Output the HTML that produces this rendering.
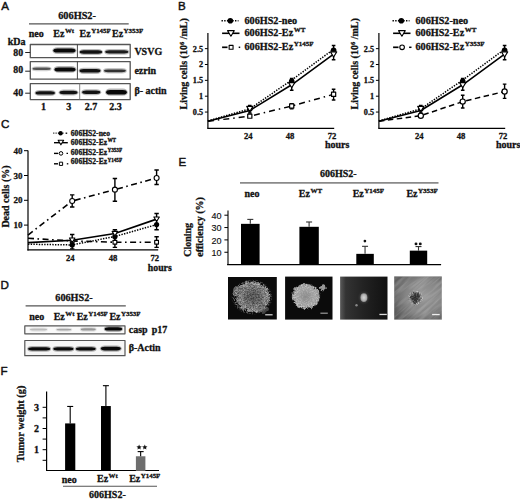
<!DOCTYPE html>
<html><head><meta charset="utf-8"><style>
html,body{margin:0;padding:0;background:#fff;}
svg{display:block;}
text{stroke:#111;stroke-width:0.3px;}
</style></head><body>
<svg width="520" height="499" viewBox="0 0 520 499">
<defs>
<filter id="bl" x="-20%" y="-50%" width="140%" height="200%"><feGaussianBlur stdDeviation="0.6"/></filter>
<radialGradient id="col1"><stop offset="0" stop-color="#5e5e5e"/><stop offset="0.5" stop-color="#737373"/><stop offset="0.8" stop-color="#9a9a9a"/><stop offset="0.93" stop-color="#707070"/><stop offset="1" stop-color="#222" stop-opacity="0"/></radialGradient>
<radialGradient id="col2"><stop offset="0" stop-color="#8a8a8a"/><stop offset="0.7" stop-color="#a5a5a5"/><stop offset="0.92" stop-color="#888"/><stop offset="1" stop-color="#222" stop-opacity="0"/></radialGradient>
<radialGradient id="blob3"><stop offset="0" stop-color="#d8d8d8"/><stop offset="0.7" stop-color="#b0b0b0"/><stop offset="1" stop-color="#888"/></radialGradient>
<radialGradient id="glow3"><stop offset="0" stop-color="#888"/><stop offset="1" stop-color="#333" stop-opacity="0"/></radialGradient>
<radialGradient id="col4"><stop offset="0" stop-color="#2a2a2a"/><stop offset="0.6" stop-color="#3a3a3a"/><stop offset="1" stop-color="#777" stop-opacity="0"/></radialGradient>
<radialGradient id="colmask"><stop offset="0" stop-color="#fff" stop-opacity="0.15"/><stop offset="0.55" stop-color="#fff" stop-opacity="0.45"/><stop offset="0.85" stop-color="#fff" stop-opacity="1"/><stop offset="1" stop-color="#fff" stop-opacity="0"/></radialGradient>
<linearGradient id="g3" x1="0" y1="0" x2="1" y2="0"><stop offset="0" stop-color="#5a5a5a"/><stop offset="0.12" stop-color="#333"/><stop offset="0.5" stop-color="#222"/><stop offset="1" stop-color="#111"/></linearGradient>
<radialGradient id="g4" cx="0.62" cy="0.45" r="0.75"><stop offset="0" stop-color="#999"/><stop offset="0.5" stop-color="#858585"/><stop offset="1" stop-color="#555"/></radialGradient>
<filter id="speck" x="0" y="0" width="100%" height="100%"><feTurbulence type="fractalNoise" baseFrequency="0.9" numOctaves="2" seed="4" result="n"/><feColorMatrix in="n" type="matrix" values="0 0 0 0 1  0 0 0 0 1  0 0 0 0 1  4 0 0 0 -1.7" result="w"/><feComposite in="w" in2="SourceGraphic" operator="in"/></filter>
<filter id="speckd" x="0" y="0" width="100%" height="100%"><feTurbulence type="fractalNoise" baseFrequency="0.7" numOctaves="2" seed="11" result="n"/><feColorMatrix in="n" type="matrix" values="0 0 0 0 0  0 0 0 0 0  0 0 0 0 0  4 0 0 0 -1.6" result="w"/><feComposite in="w" in2="SourceGraphic" operator="in"/></filter>
<filter id="speck2" x="0" y="0" width="100%" height="100%"><feTurbulence type="fractalNoise" baseFrequency="0.8" numOctaves="2" seed="9" result="n"/><feColorMatrix in="n" type="matrix" values="0 0 0 0 1  0 0 0 0 1  0 0 0 0 1  4 0 0 0 -1.8" result="w"/><feComposite in="w" in2="SourceGraphic" operator="in"/></filter>
<clipPath id="c4"><rect x="394.2" y="276.4" width="47.6" height="43.2"/></clipPath>
<filter id="rough" x="-20%" y="-20%" width="140%" height="140%"><feTurbulence type="fractalNoise" baseFrequency="0.25" numOctaves="2" seed="7" result="t"/><feDisplacementMap in="SourceGraphic" in2="t" scale="6" xChannelSelector="R" yChannelSelector="G"/></filter>
<filter id="rough2" x="-20%" y="-20%" width="140%" height="140%"><feTurbulence type="fractalNoise" baseFrequency="0.3" numOctaves="2" seed="3" result="t"/><feDisplacementMap in="SourceGraphic" in2="t" scale="5" xChannelSelector="R" yChannelSelector="G"/></filter>
<filter id="streak" x="0" y="0" width="100%" height="100%"><feTurbulence type="fractalNoise" baseFrequency="0.05 0.4" numOctaves="2" seed="2" result="n"/><feColorMatrix in="n" type="matrix" values="0 0 0 0 1  0 0 0 0 1  0 0 0 0 1  3 0 0 0 -1.2" result="w"/><feComposite in="w" in2="SourceGraphic" operator="in"/></filter>
</defs>
<rect width="520" height="499" fill="#fff"/>
<g fill="#111" stroke-linejoin="round">
<text x="1.2" y="10.2" font-family='"Liberation Sans", sans-serif' font-size="11.6" font-weight="normal" text-anchor="start"  style="stroke-width:0.45px">A</text>
<text x="178" y="9.5" font-family='"Liberation Sans", sans-serif' font-size="11.6" font-weight="normal" text-anchor="start"  style="stroke-width:0.45px">B</text>
<text x="1.0" y="128" font-family='"Liberation Sans", sans-serif' font-size="11.6" font-weight="normal" text-anchor="start"  style="stroke-width:0.45px">C</text>
<text x="0.6" y="288.6" font-family='"Liberation Sans", sans-serif' font-size="11.6" font-weight="normal" text-anchor="start"  style="stroke-width:0.45px">D</text>
<text x="178.5" y="166.3" font-family='"Liberation Sans", sans-serif' font-size="11.6" font-weight="normal" text-anchor="start"  style="stroke-width:0.45px">E</text>
<text x="0.6" y="375.2" font-family='"Liberation Sans", sans-serif' font-size="11.6" font-weight="normal" text-anchor="start"  style="stroke-width:0.45px">F</text>
<text x="58.2" y="18.7" font-family='"Liberation Serif", serif' font-size="10.3" font-weight="bold" text-anchor="start"  >606HS2-</text>
<line x1="29.0" y1="23.8" x2="128.7" y2="23.8" stroke="#555" stroke-width="1.2" />
<text x="28.8" y="36.6" font-family='"Liberation Serif", serif' font-size="10" font-weight="bold" text-anchor="start"  >neo</text>
<text x="53.3" y="36.6" font-family='"Liberation Serif", serif' font-size="10" font-weight="bold">Ez<tspan font-size="6.9" dx="0.5" dy="-3.9">Wt</tspan></text>
<text x="79.6" y="36.6" font-family='"Liberation Serif", serif' font-size="10" font-weight="bold">Ez<tspan font-size="6.9" dx="0.5" dy="-3.9">Y145F</tspan></text>
<text x="112.0" y="36.6" font-family='"Liberation Serif", serif' font-size="10" font-weight="bold">Ez<tspan font-size="6.9" dx="0.5" dy="-3.9">Y353F</tspan></text>
<text x="7.7" y="44.8" font-family='"Liberation Serif", serif' font-size="10" font-weight="bold" text-anchor="start"  >kDa</text>
<rect x="30.3" y="44.5" width="99.9" height="13.200000000000003" fill="none" stroke="#555" stroke-width="1.3"/>
<rect x="30.3" y="61.6" width="99.9" height="17.6" fill="none" stroke="#555" stroke-width="1.3"/>
<rect x="30.3" y="83.6" width="99.9" height="16.0" fill="none" stroke="#555" stroke-width="1.3"/>
<line x1="77.4" y1="44.5" x2="77.4" y2="57.7" stroke="#333" stroke-width="0.9" />
<line x1="77.4" y1="61.6" x2="77.4" y2="79.2" stroke="#333" stroke-width="0.9" />
<line x1="79.7" y1="83.6" x2="79.7" y2="99.6" stroke="#777" stroke-width="0.9" />
<text x="23.1" y="56.4" font-family='"Liberation Serif", serif' font-size="9.8" font-weight="bold" text-anchor="end"  >80</text>
<line x1="25.2" y1="52.5" x2="30.2" y2="52.5" stroke="#222" stroke-width="1" />
<text x="23.1" y="73.3" font-family='"Liberation Serif", serif' font-size="9.8" font-weight="bold" text-anchor="end"  >80</text>
<line x1="25.2" y1="71.2" x2="30.2" y2="71.2" stroke="#222" stroke-width="1" />
<text x="23.1" y="95.6" font-family='"Liberation Serif", serif' font-size="9.8" font-weight="bold" text-anchor="end"  >40</text>
<line x1="25.2" y1="93.2" x2="30.2" y2="93.2" stroke="#222" stroke-width="1" />
<text x="134.4" y="55.3" font-family='"Liberation Serif", serif' font-size="10" font-weight="bold" text-anchor="start"  >VSVG</text>
<text x="134.4" y="73.6" font-family='"Liberation Serif", serif' font-size="10" font-weight="bold" text-anchor="start"  >ezrin</text>
<text x="134.4" y="93.9" font-family='"Liberation Serif", serif' font-size="10" font-weight="bold" text-anchor="start"  >&#946;- actin</text>
<text x="43.4" y="110" font-family='"Liberation Serif", serif' font-size="10" font-weight="bold" text-anchor="middle"  >1</text>
<text x="68.8" y="110" font-family='"Liberation Serif", serif' font-size="10" font-weight="bold" text-anchor="middle"  >3</text>
<text x="90.9" y="110" font-family='"Liberation Serif", serif' font-size="10" font-weight="bold" text-anchor="middle"  >2.7</text>
<text x="115.6" y="110" font-family='"Liberation Serif", serif' font-size="10" font-weight="bold" text-anchor="middle"  >2.3</text>
<rect x="52.3" y="47.300000000000004" width="24.200000000000003" height="6.6" rx="5" ry="3.3" fill="#000" fill-opacity="0.285" filter="url(#bl)"/>
<rect x="53.3" y="48.6" width="22.200000000000003" height="4.0" rx="4" ry="2.0" fill="#000" fill-opacity="0.95" filter="url(#bl)"/>
<rect x="78.7" y="49.0" width="24.39999999999999" height="6.0" rx="5" ry="3.0" fill="#000" fill-opacity="0.27" filter="url(#bl)"/>
<rect x="79.7" y="50.3" width="22.39999999999999" height="3.4" rx="4" ry="1.7" fill="#000" fill-opacity="0.9" filter="url(#bl)"/>
<rect x="104.2" y="48.9" width="25.10000000000001" height="5.800000000000001" rx="5" ry="2.9000000000000004" fill="#000" fill-opacity="0.255" filter="url(#bl)"/>
<rect x="105.2" y="50.199999999999996" width="23.10000000000001" height="3.2" rx="4" ry="1.6" fill="#000" fill-opacity="0.85" filter="url(#bl)"/>
<rect x="31.5" y="66.2" width="20.200000000000003" height="5.0" rx="5" ry="2.5" fill="#000" fill-opacity="0.18" filter="url(#bl)"/>
<rect x="32.5" y="67.5" width="18.200000000000003" height="2.4" rx="4" ry="1.2" fill="#000" fill-opacity="0.6" filter="url(#bl)"/>
<rect x="53.5" y="66.10000000000001" width="23.0" height="6.6" rx="5" ry="3.3" fill="#000" fill-opacity="0.285" filter="url(#bl)"/>
<rect x="54.5" y="67.4" width="21.0" height="4.0" rx="4" ry="2.0" fill="#000" fill-opacity="0.95" filter="url(#bl)"/>
<rect x="78.5" y="67.7" width="23.0" height="6.2" rx="5" ry="3.1" fill="#000" fill-opacity="0.27" filter="url(#bl)"/>
<rect x="79.5" y="69.0" width="21.0" height="3.6" rx="4" ry="1.8" fill="#000" fill-opacity="0.9" filter="url(#bl)"/>
<rect x="103.0" y="68.1" width="23.900000000000006" height="5.4" rx="5" ry="2.7" fill="#000" fill-opacity="0.22499999999999998" filter="url(#bl)"/>
<rect x="104.0" y="69.39999999999999" width="21.900000000000006" height="2.8" rx="4" ry="1.4" fill="#000" fill-opacity="0.75" filter="url(#bl)"/>
<rect x="34.5" y="89.9" width="21.4" height="6.0" rx="5" ry="3.0" fill="#000" fill-opacity="0.27" filter="url(#bl)"/>
<rect x="35.5" y="91.2" width="19.4" height="3.4" rx="4" ry="1.7" fill="#000" fill-opacity="0.9" filter="url(#bl)"/>
<rect x="58.5" y="89.5" width="20.0" height="6.0" rx="5" ry="3.0" fill="#000" fill-opacity="0.27" filter="url(#bl)"/>
<rect x="59.5" y="90.8" width="18.0" height="3.4" rx="4" ry="1.7" fill="#000" fill-opacity="0.9" filter="url(#bl)"/>
<rect x="81.1" y="89.2" width="20.200000000000003" height="6.0" rx="5" ry="3.0" fill="#000" fill-opacity="0.27" filter="url(#bl)"/>
<rect x="82.1" y="90.5" width="18.200000000000003" height="3.4" rx="4" ry="1.7" fill="#000" fill-opacity="0.9" filter="url(#bl)"/>
<rect x="105.1" y="88.60000000000001" width="22.700000000000003" height="7.199999999999999" rx="5" ry="3.5999999999999996" fill="#000" fill-opacity="0.285" filter="url(#bl)"/>
<rect x="106.1" y="89.9" width="20.700000000000003" height="4.6" rx="4" ry="2.3" fill="#000" fill-opacity="0.95" filter="url(#bl)"/>
<line x1="207.9" y1="33" x2="207.9" y2="128.4" stroke="#000" stroke-width="1.2" />
<line x1="207.3" y1="128.4" x2="334.20000000000005" y2="128.4" stroke="#000" stroke-width="1.2" />
<line x1="204.9" y1="112.05000000000001" x2="207.9" y2="112.05000000000001" stroke="#000" stroke-width="1" />
<text x="203.1" y="114.95000000000002" font-family='"Liberation Serif", serif' font-size="8.2" font-weight="bold" text-anchor="end"  >0.5</text>
<line x1="204.9" y1="96.2" x2="207.9" y2="96.2" stroke="#000" stroke-width="1" />
<text x="203.1" y="99.10000000000001" font-family='"Liberation Serif", serif' font-size="8.2" font-weight="bold" text-anchor="end"  >1</text>
<line x1="204.9" y1="80.35000000000001" x2="207.9" y2="80.35000000000001" stroke="#000" stroke-width="1" />
<text x="203.1" y="83.25000000000001" font-family='"Liberation Serif", serif' font-size="8.2" font-weight="bold" text-anchor="end"  >1.5</text>
<line x1="204.9" y1="64.5" x2="207.9" y2="64.5" stroke="#000" stroke-width="1" />
<text x="203.1" y="67.4" font-family='"Liberation Serif", serif' font-size="8.2" font-weight="bold" text-anchor="end"  >2</text>
<line x1="204.9" y1="48.650000000000006" x2="207.9" y2="48.650000000000006" stroke="#000" stroke-width="1" />
<text x="203.1" y="51.550000000000004" font-family='"Liberation Serif", serif' font-size="8.2" font-weight="bold" text-anchor="end"  >2.5</text>
<text x="248.20000000000002" y="138.7" font-family='"Liberation Serif", serif' font-size="8.6" font-weight="bold" text-anchor="middle"  >24</text>
<text x="290.09999999999997" y="138.7" font-family='"Liberation Serif", serif' font-size="8.6" font-weight="bold" text-anchor="middle"  >48</text>
<text x="332.0" y="138.7" font-family='"Liberation Serif", serif' font-size="8.6" font-weight="bold" text-anchor="middle"  >72</text>
<text x="325.0" y="147.6" font-family='"Liberation Serif", serif' font-size="10" font-weight="bold" text-anchor="start"  >hours</text>
<text transform="translate(187.3,109.5) rotate(-90)" font-family='"Liberation Serif", serif' font-size="10" font-weight="bold">Living cells (10<tspan font-size="6.5" dy="-3.5">6</tspan><tspan dy="3.5"> /mL)</tspan></text>
<polyline points="207.9,121.24300000000001 249.8,116.171 291.7,106.02700000000002 333.6,94.298" fill="none" stroke="#000" stroke-width="1.5" stroke-dasharray="6,4,1.5,4"/>
<polyline points="207.9,120.926 249.8,108.88000000000001 291.7,80.03300000000002 333.6,49.284000000000006" fill="none" stroke="#000" stroke-width="1.5" stroke-dasharray="1.4,1.3"/>
<polyline points="207.9,121.24300000000001 249.8,110.465 291.7,84.78800000000001 333.6,54.039" fill="none" stroke="#000" stroke-width="1.6" stroke-dasharray="none"/>
<path d="M291.7,78.44800000000001 V90.177 M289.9,78.44800000000001 H293.5 M289.9,90.177 H293.5" stroke="#000" stroke-width="1.4" fill="none"/>
<path d="M333.6,45.480000000000004 V59.745000000000005 M331.8,45.480000000000004 H335.40000000000003 M331.8,59.745000000000005 H335.40000000000003" stroke="#000" stroke-width="1.4" fill="none"/>
<path d="M249.8,105.393 V113.001 M248.0,105.393 H251.60000000000002 M248.0,113.001 H251.60000000000002" stroke="#000" stroke-width="1.4" fill="none"/>
<line x1="221.5" y1="20.8" x2="238.5" y2="20.8" stroke="#000" stroke-width="1.5" stroke-dasharray="1.4,1.3"/>
<circle cx="230.3" cy="20.8" r="2.8" fill="#000"/>
<text x="244.5" y="23.7" font-family='"Liberation Serif", serif' font-size="10.2" font-weight="bold" text-anchor="start"  >606HS2-neo</text>
<line x1="222.1" y1="33.3" x2="239.5" y2="33.3" stroke="#000" stroke-width="1.6" />
<path d="M227.54,30.639999999999997 L234.26000000000002,30.639999999999997 L230.9,36.226 Z" fill="#fff" stroke="#000" stroke-width="1.1"/>
<text x="244.5" y="36.0" font-family='"Liberation Serif", serif' font-size="10.2" font-weight="bold">606HS2-Ez<tspan font-size="7" dx="0.5" dy="-3.8">WT</tspan></text>
<line x1="222.1" y1="47.3" x2="227.5" y2="47.3" stroke="#000" stroke-width="1.7" />
<rect x="229.14499999999998" y="45.345" width="3.9099999999999997" height="3.9099999999999997" fill="#fff" stroke="#000" stroke-width="1.1"/>
<line x1="238.7" y1="47.3" x2="240.2" y2="47.3" stroke="#000" stroke-width="1.5" />
<text x="244.5" y="50.0" font-family='"Liberation Serif", serif' font-size="10.2" font-weight="bold">606HS2-Ez<tspan font-size="7" dx="0.5" dy="-3.8">Y145F</tspan></text>
<path d="M291.7,103.808 V108.88000000000001 M289.9,103.808 H293.5 M289.9,108.88000000000001 H293.5" stroke="#000" stroke-width="1.4" fill="none"/>
<path d="M333.6,89.226 V100.004 M331.8,89.226 H335.40000000000003 M331.8,100.004 H335.40000000000003" stroke="#000" stroke-width="1.4" fill="none"/>
<circle cx="249.8" cy="108.88000000000001" r="2.8" fill="#000"/>
<circle cx="291.7" cy="81.30100000000002" r="2.8" fill="#000"/>
<circle cx="333.6" cy="50.235" r="2.8" fill="#000"/>
<path d="M246.68,106.393 L252.92000000000002,106.393 L249.8,111.58 Z" fill="#fff" stroke="#000" stroke-width="1.1"/>
<path d="M288.58,82.61800000000001 L294.82,82.61800000000001 L291.7,87.805 Z" fill="#fff" stroke="#000" stroke-width="1.1"/>
<path d="M330.48,51.869 L336.72,51.869 L333.6,57.056 Z" fill="#fff" stroke="#000" stroke-width="1.1"/>
<rect x="247.7175" y="114.08850000000001" width="4.165" height="4.165" fill="#fff" stroke="#000" stroke-width="1.2"/>
<rect x="289.6175" y="103.94450000000002" width="4.165" height="4.165" fill="#fff" stroke="#000" stroke-width="1.2"/>
<rect x="331.51750000000004" y="92.2155" width="4.165" height="4.165" fill="#fff" stroke="#000" stroke-width="1.2"/>
<line x1="378.9" y1="33" x2="378.9" y2="128.4" stroke="#000" stroke-width="1.2" />
<line x1="378.29999999999995" y1="128.4" x2="505.2" y2="128.4" stroke="#000" stroke-width="1.2" />
<line x1="375.9" y1="112.05000000000001" x2="378.9" y2="112.05000000000001" stroke="#000" stroke-width="1" />
<text x="374.09999999999997" y="114.95000000000002" font-family='"Liberation Serif", serif' font-size="8.2" font-weight="bold" text-anchor="end"  >0.5</text>
<line x1="375.9" y1="96.2" x2="378.9" y2="96.2" stroke="#000" stroke-width="1" />
<text x="374.09999999999997" y="99.10000000000001" font-family='"Liberation Serif", serif' font-size="8.2" font-weight="bold" text-anchor="end"  >1</text>
<line x1="375.9" y1="80.35000000000001" x2="378.9" y2="80.35000000000001" stroke="#000" stroke-width="1" />
<text x="374.09999999999997" y="83.25000000000001" font-family='"Liberation Serif", serif' font-size="8.2" font-weight="bold" text-anchor="end"  >1.5</text>
<line x1="375.9" y1="64.5" x2="378.9" y2="64.5" stroke="#000" stroke-width="1" />
<text x="374.09999999999997" y="67.4" font-family='"Liberation Serif", serif' font-size="8.2" font-weight="bold" text-anchor="end"  >2</text>
<line x1="375.9" y1="48.650000000000006" x2="378.9" y2="48.650000000000006" stroke="#000" stroke-width="1" />
<text x="374.09999999999997" y="51.550000000000004" font-family='"Liberation Serif", serif' font-size="8.2" font-weight="bold" text-anchor="end"  >2.5</text>
<text x="419.19999999999993" y="138.7" font-family='"Liberation Serif", serif' font-size="8.6" font-weight="bold" text-anchor="middle"  >24</text>
<text x="461.09999999999997" y="138.7" font-family='"Liberation Serif", serif' font-size="8.6" font-weight="bold" text-anchor="middle"  >48</text>
<text x="502.99999999999994" y="138.7" font-family='"Liberation Serif", serif' font-size="8.6" font-weight="bold" text-anchor="middle"  >72</text>
<text x="495.99999999999994" y="147.6" font-family='"Liberation Serif", serif' font-size="10" font-weight="bold" text-anchor="start"  >hours</text>
<text transform="translate(358.29999999999995,109.5) rotate(-90)" font-family='"Liberation Serif", serif' font-size="10" font-weight="bold">Living cells (10<tspan font-size="6.5" dy="-3.5">6</tspan><tspan dy="3.5"> /mL)</tspan></text>
<polyline points="378.9,121.24300000000001 420.79999999999995,115.69550000000001 462.7,101.58900000000001 504.59999999999997,91.44500000000001" fill="none" stroke="#000" stroke-width="1.5" stroke-dasharray="5.5,3.5"/>
<polyline points="378.9,120.926 420.79999999999995,108.88000000000001 462.7,80.03300000000002 504.59999999999997,49.284000000000006" fill="none" stroke="#000" stroke-width="1.5" stroke-dasharray="1.4,1.3"/>
<polyline points="378.9,121.24300000000001 420.79999999999995,110.465 462.7,84.78800000000001 504.59999999999997,54.039" fill="none" stroke="#000" stroke-width="1.6" stroke-dasharray="none"/>
<path d="M462.7,78.44800000000001 V90.177 M460.9,78.44800000000001 H464.5 M460.9,90.177 H464.5" stroke="#000" stroke-width="1.4" fill="none"/>
<path d="M504.59999999999997,45.480000000000004 V59.745000000000005 M502.79999999999995,45.480000000000004 H506.4 M502.79999999999995,59.745000000000005 H506.4" stroke="#000" stroke-width="1.4" fill="none"/>
<path d="M420.79999999999995,105.393 V113.001 M418.99999999999994,105.393 H422.59999999999997 M418.99999999999994,113.001 H422.59999999999997" stroke="#000" stroke-width="1.4" fill="none"/>
<line x1="392.5" y1="20.8" x2="409.5" y2="20.8" stroke="#000" stroke-width="1.5" stroke-dasharray="1.4,1.3"/>
<circle cx="401.3" cy="20.8" r="2.8" fill="#000"/>
<text x="415.5" y="23.7" font-family='"Liberation Serif", serif' font-size="10.2" font-weight="bold" text-anchor="start"  >606HS2-neo</text>
<line x1="393.1" y1="33.3" x2="410.5" y2="33.3" stroke="#000" stroke-width="1.6" />
<path d="M398.53999999999996,30.639999999999997 L405.26,30.639999999999997 L401.9,36.226 Z" fill="#fff" stroke="#000" stroke-width="1.1"/>
<text x="415.5" y="36.0" font-family='"Liberation Serif", serif' font-size="10.2" font-weight="bold">606HS2-Ez<tspan font-size="7" dx="0.5" dy="-3.8">WT</tspan></text>
<line x1="393.1" y1="47.3" x2="398.5" y2="47.3" stroke="#000" stroke-width="1.7" />
<circle cx="402.1" cy="47.3" r="2.3" fill="#fff" stroke="#000" stroke-width="1.1"/>
<line x1="409.1" y1="47.3" x2="411.5" y2="47.3" stroke="#000" stroke-width="1.5" />
<text x="415.5" y="50.0" font-family='"Liberation Serif", serif' font-size="10.2" font-weight="bold">606HS2-Ez<tspan font-size="7" dx="0.5" dy="-3.8">Y353F</tspan></text>
<path d="M462.7,95.249 V107.929 M460.9,95.249 H464.5 M460.9,107.929 H464.5" stroke="#000" stroke-width="1.4" fill="none"/>
<path d="M504.59999999999997,84.15400000000001 V98.41900000000001 M502.79999999999995,84.15400000000001 H506.4 M502.79999999999995,98.41900000000001 H506.4" stroke="#000" stroke-width="1.4" fill="none"/>
<circle cx="420.79999999999995" cy="108.88000000000001" r="2.8" fill="#000"/>
<circle cx="462.7" cy="81.30100000000002" r="2.8" fill="#000"/>
<circle cx="504.59999999999997" cy="50.235" r="2.8" fill="#000"/>
<path d="M417.67999999999995,106.393 L423.91999999999996,106.393 L420.79999999999995,111.58 Z" fill="#fff" stroke="#000" stroke-width="1.1"/>
<path d="M459.58,82.61800000000001 L465.82,82.61800000000001 L462.7,87.805 Z" fill="#fff" stroke="#000" stroke-width="1.1"/>
<path d="M501.47999999999996,51.869 L507.71999999999997,51.869 L504.59999999999997,57.056 Z" fill="#fff" stroke="#000" stroke-width="1.1"/>
<circle cx="420.79999999999995" cy="115.69550000000001" r="2.6" fill="#fff" stroke="#000" stroke-width="1.2"/>
<circle cx="462.7" cy="101.58900000000001" r="2.6" fill="#fff" stroke="#000" stroke-width="1.2"/>
<circle cx="504.59999999999997" cy="91.44500000000001" r="2.6" fill="#fff" stroke="#000" stroke-width="1.2"/>
<line x1="28.0" y1="150.5" x2="28.0" y2="250.5" stroke="#000" stroke-width="1.2" />
<line x1="27.4" y1="249.9" x2="158.2" y2="249.9" stroke="#000" stroke-width="1.2" />
<line x1="24.0" y1="225.1" x2="28.0" y2="225.1" stroke="#000" stroke-width="1" />
<text x="22.4" y="228.2" font-family='"Liberation Serif", serif' font-size="9" font-weight="bold" text-anchor="end"  >10</text>
<line x1="24.0" y1="200.3" x2="28.0" y2="200.3" stroke="#000" stroke-width="1" />
<text x="22.4" y="203.4" font-family='"Liberation Serif", serif' font-size="9" font-weight="bold" text-anchor="end"  >20</text>
<line x1="24.0" y1="175.5" x2="28.0" y2="175.5" stroke="#000" stroke-width="1" />
<text x="22.4" y="178.6" font-family='"Liberation Serif", serif' font-size="9" font-weight="bold" text-anchor="end"  >30</text>
<line x1="24.0" y1="150.7" x2="28.0" y2="150.7" stroke="#000" stroke-width="1" />
<text x="22.4" y="153.79999999999998" font-family='"Liberation Serif", serif' font-size="9" font-weight="bold" text-anchor="end"  >40</text>
<text x="70.3" y="261.2" font-family='"Liberation Serif", serif' font-size="8.6" font-weight="bold" text-anchor="middle"  >24</text>
<text x="113.0" y="261.2" font-family='"Liberation Serif", serif' font-size="8.6" font-weight="bold" text-anchor="middle"  >48</text>
<text x="154.7" y="261.2" font-family='"Liberation Serif", serif' font-size="8.6" font-weight="bold" text-anchor="middle"  >72</text>
<text x="147.8" y="270.6" font-family='"Liberation Serif", serif' font-size="9.8" font-weight="bold" text-anchor="start"  >hours</text>
<text x="0" y="0" font-family='"Liberation Serif", serif' font-size="10" font-weight="bold" text-anchor="start"  transform="translate(9.2,227.6) rotate(-90)">Dead cells (%)</text>
<polyline points="28.0,235.02 72.2,201.044 114.9,189.636 156.6,177.98000000000002" fill="none" stroke="#000" stroke-width="1.6" stroke-dasharray="6,3.5,1.6,3.5"/>
<polyline points="28.0,238.244 72.2,240.972 114.9,242.21200000000002 156.6,242.21200000000002" fill="none" stroke="#000" stroke-width="1.6" stroke-dasharray="6,3.5,1.6,3.5"/>
<polyline points="28.0,244.196 72.2,244.94 114.9,236.508 156.6,224.604" fill="none" stroke="#000" stroke-width="1.5" stroke-dasharray="1.4,1.3"/>
<polyline points="28.0,242.708 72.2,240.228 114.9,233.532 156.6,219.148" fill="none" stroke="#000" stroke-width="1.7" stroke-dasharray="none"/>
<path d="M72.2,194.844 V206.996 M70.0,194.844 H74.4 M70.0,206.996 H74.4" stroke="#000" stroke-width="1.4" fill="none"/>
<path d="M114.9,178.476 V201.292 M112.7,178.476 H117.10000000000001 M112.7,201.292 H117.10000000000001" stroke="#000" stroke-width="1.4" fill="none"/>
<path d="M156.6,170.04399999999998 V184.428 M154.4,170.04399999999998 H158.79999999999998 M154.4,184.428 H158.79999999999998" stroke="#000" stroke-width="1.4" fill="none"/>
<path d="M72.2,234.524 V248.90800000000002 M70.0,234.524 H74.4 M70.0,248.90800000000002 H74.4" stroke="#000" stroke-width="1.4" fill="none"/>
<path d="M114.9,229.812 V240.972 M112.7,229.812 H117.10000000000001 M112.7,240.972 H117.10000000000001" stroke="#000" stroke-width="1.4" fill="none"/>
<path d="M156.6,213.44400000000002 V229.812 M154.4,213.44400000000002 H158.79999999999998 M154.4,229.812 H158.79999999999998" stroke="#000" stroke-width="1.4" fill="none"/>
<path d="M114.9,237.748 V247.42000000000002 M112.7,237.748 H117.10000000000001 M112.7,247.42000000000002 H117.10000000000001" stroke="#000" stroke-width="1.4" fill="none"/>
<path d="M156.6,236.756 V247.42000000000002 M154.4,236.756 H158.79999999999998 M154.4,247.42000000000002 H158.79999999999998" stroke="#000" stroke-width="1.4" fill="none"/>
<rect x="70.33" y="239.102" width="3.74" height="3.74" fill="#fff" stroke="#000" stroke-width="1.1"/>
<rect x="113.03" y="240.342" width="3.74" height="3.74" fill="#fff" stroke="#000" stroke-width="1.1"/>
<rect x="154.73" y="240.342" width="3.74" height="3.74" fill="#fff" stroke="#000" stroke-width="1.1"/>
<circle cx="72.2" cy="201.044" r="2.5" fill="#fff" stroke="#000" stroke-width="1.1"/>
<circle cx="114.9" cy="189.636" r="2.5" fill="#fff" stroke="#000" stroke-width="1.1"/>
<circle cx="156.6" cy="177.98000000000002" r="2.5" fill="#fff" stroke="#000" stroke-width="1.1"/>
<circle cx="72.2" cy="244.94" r="2.6" fill="#000"/>
<circle cx="114.9" cy="236.508" r="2.6" fill="#000"/>
<circle cx="156.6" cy="224.604" r="2.6" fill="#000"/>
<path d="M69.44,238.043 L74.96000000000001,238.043 L72.2,242.63150000000002 Z" fill="#fff" stroke="#000" stroke-width="1.1"/>
<path d="M112.14,231.347 L117.66000000000001,231.347 L114.9,235.93550000000002 Z" fill="#fff" stroke="#000" stroke-width="1.1"/>
<path d="M153.84,216.963 L159.35999999999999,216.963 L156.6,221.5515 Z" fill="#fff" stroke="#000" stroke-width="1.1"/>
<line x1="53.3" y1="133.2" x2="64" y2="133.2" stroke="#000" stroke-width="1.3" stroke-dasharray="1,1.3"/>
<circle cx="60.6" cy="133.2" r="2.2" fill="#000"/>
<line x1="65.6" y1="133.2" x2="67.2" y2="133.2" stroke="#000" stroke-width="1.3" />
<line x1="54" y1="142.7" x2="67.8" y2="142.7" stroke="#000" stroke-width="1.4" />
<path d="M58.14,140.215 L63.66,140.215 L60.9,144.8035 Z" fill="#fff" stroke="#000" stroke-width="1.1"/>
<line x1="54" y1="153.4" x2="58.2" y2="153.4" stroke="#000" stroke-width="1.4" />
<circle cx="61.0" cy="153.4" r="1.8" fill="#fff" stroke="#000" stroke-width="1.0"/>
<line x1="66.5" y1="153.4" x2="68.0" y2="153.4" stroke="#000" stroke-width="1.3" />
<line x1="54" y1="163.8" x2="58.0" y2="163.8" stroke="#000" stroke-width="1.4" />
<rect x="59.385" y="162.185" width="3.23" height="3.23" fill="#fff" stroke="#000" stroke-width="1.0"/>
<line x1="66.8" y1="163.8" x2="68.3" y2="163.8" stroke="#000" stroke-width="1.3" />
<text x="70.8" y="135.8" font-family='"Liberation Serif", serif' font-size="7.6" font-weight="bold" text-anchor="start"  >606HS2-neo</text>
<text x="70.8" y="145.1" font-family='"Liberation Serif", serif' font-size="7.6" font-weight="bold">606HS2-Ez<tspan font-size="5.2" dx="0.3" dy="-2.8">WT</tspan></text>
<text x="70.8" y="155.0" font-family='"Liberation Serif", serif' font-size="7.6" font-weight="bold">606HS2-Ez<tspan font-size="5.2" dx="0.3" dy="-2.8">Y353F</tspan></text>
<text x="70.8" y="164.4" font-family='"Liberation Serif", serif' font-size="7.6" font-weight="bold">606HS2-Ez<tspan font-size="5.2" dx="0.3" dy="-2.8">Y145F</tspan></text>
<text x="55.3" y="301.1" font-family='"Liberation Serif", serif' font-size="10.2" font-weight="bold" text-anchor="start"  >606HS2-</text>
<line x1="25.6" y1="305.8" x2="125.8" y2="305.8" stroke="#555" stroke-width="1.2" />
<text x="29.3" y="319.5" font-family='"Liberation Serif", serif' font-size="10" font-weight="bold" text-anchor="start"  >neo</text>
<text x="53.7" y="319.5" font-family='"Liberation Serif", serif' font-size="10" font-weight="bold">Ez<tspan font-size="6.9" dx="0.5" dy="-3.9">Wt</tspan></text>
<text x="76.7" y="319.5" font-family='"Liberation Serif", serif' font-size="10" font-weight="bold">Ez<tspan font-size="6.9" dx="0.5" dy="-3.9">Y145F</tspan></text>
<text x="109.4" y="319.5" font-family='"Liberation Serif", serif' font-size="10" font-weight="bold">Ez<tspan font-size="6.9" dx="0.5" dy="-3.9">Y353F</tspan></text>
<rect x="24.8" y="325.9" width="100.2" height="7.9" fill="#fafafa" stroke="#555" stroke-width="1.2"/>
<rect x="24.8" y="340.5" width="100.2" height="15.2" fill="#f6f6f6" stroke="#555" stroke-width="1.2"/>
<rect x="29.0" y="327.3" width="19.0" height="4.6" rx="5" ry="2.3" fill="#000" fill-opacity="0.06" filter="url(#bl)"/>
<rect x="30.0" y="328.6" width="17.0" height="2.0" rx="4" ry="1.0" fill="#000" fill-opacity="0.2" filter="url(#bl)"/>
<rect x="55.5" y="327.40000000000003" width="16.799999999999997" height="4.4" rx="5" ry="2.2" fill="#000" fill-opacity="0.084" filter="url(#bl)"/>
<rect x="56.5" y="328.70000000000005" width="14.799999999999997" height="1.8" rx="4" ry="0.9" fill="#000" fill-opacity="0.28" filter="url(#bl)"/>
<rect x="79.8" y="327.0" width="16.900000000000006" height="4.800000000000001" rx="5" ry="2.4000000000000004" fill="#000" fill-opacity="0.099" filter="url(#bl)"/>
<rect x="80.8" y="328.29999999999995" width="14.900000000000006" height="2.2" rx="4" ry="1.1" fill="#000" fill-opacity="0.33" filter="url(#bl)"/>
<rect x="103.7" y="325.9" width="19.39999999999999" height="6.0" rx="5" ry="3.0" fill="#000" fill-opacity="0.291" filter="url(#bl)"/>
<rect x="104.7" y="327.2" width="17.39999999999999" height="3.4" rx="4" ry="1.7" fill="#000" fill-opacity="0.97" filter="url(#bl)"/>
<rect x="27.1" y="345.90000000000003" width="24.1" height="5.800000000000001" rx="5" ry="2.9000000000000004" fill="#000" fill-opacity="0.285" filter="url(#bl)"/>
<rect x="28.1" y="347.2" width="22.1" height="3.2" rx="4" ry="1.6" fill="#000" fill-opacity="0.95" filter="url(#bl)"/>
<rect x="52.3" y="345.90000000000003" width="22.200000000000003" height="5.800000000000001" rx="5" ry="2.9000000000000004" fill="#000" fill-opacity="0.285" filter="url(#bl)"/>
<rect x="53.3" y="347.2" width="20.200000000000003" height="3.2" rx="4" ry="1.6" fill="#000" fill-opacity="0.95" filter="url(#bl)"/>
<rect x="74.9" y="345.90000000000003" width="21.799999999999997" height="5.800000000000001" rx="5" ry="2.9000000000000004" fill="#000" fill-opacity="0.285" filter="url(#bl)"/>
<rect x="75.9" y="347.2" width="19.799999999999997" height="3.2" rx="4" ry="1.6" fill="#000" fill-opacity="0.95" filter="url(#bl)"/>
<rect x="99.8" y="345.5" width="22.0" height="6.2" rx="5" ry="3.1" fill="#000" fill-opacity="0.285" filter="url(#bl)"/>
<rect x="100.8" y="346.8" width="20.0" height="3.6" rx="4" ry="1.8" fill="#000" fill-opacity="0.95" filter="url(#bl)"/>
<text x="128.7" y="332.6" font-family='"Liberation Serif", serif' font-size="10" font-weight="bold" text-anchor="start"  >casp<tspan dx="1.6"> p17</tspan></text>
<text x="128.7" y="351.2" font-family='"Liberation Serif", serif' font-size="10" font-weight="bold" text-anchor="start"  >&#946;-Actin</text>
<text x="320.0" y="177.3" font-family='"Liberation Serif", serif' font-size="10" font-weight="bold" text-anchor="start"  >606HS2-</text>
<line x1="240" y1="182.9" x2="438.5" y2="182.9" stroke="#8a8a8a" stroke-width="1.6" />
<text x="244.4" y="196.9" font-family='"Liberation Serif", serif' font-size="10" font-weight="bold" text-anchor="start"  >neo</text>
<text x="298.8" y="196.9" font-family='"Liberation Serif", serif' font-size="10" font-weight="bold">Ez<tspan font-size="7" dx="0.5" dy="-3.9">WT</tspan></text>
<text x="352.7" y="196.9" font-family='"Liberation Serif", serif' font-size="10" font-weight="bold">Ez<tspan font-size="7" dx="0.5" dy="-3.9">Y145F</tspan></text>
<text x="406.4" y="196.9" font-family='"Liberation Serif", serif' font-size="10" font-weight="bold">Ez<tspan font-size="7" dx="0.5" dy="-3.9">Y353F</tspan></text>
<line x1="228.0" y1="210.4" x2="228.0" y2="265.1" stroke="#000" stroke-width="1.1" />
<line x1="227.1" y1="264.6" x2="441.1" y2="264.6" stroke="#000" stroke-width="1.3" />
<line x1="224.4" y1="252.25000000000003" x2="228.0" y2="252.25000000000003" stroke="#000" stroke-width="1" />
<text x="221.6" y="255.85000000000002" font-family='"Liberation Sans", sans-serif' font-size="9" font-weight="normal" text-anchor="end"  style="stroke-width:0.15px">10</text>
<line x1="224.4" y1="239.90000000000003" x2="228.0" y2="239.90000000000003" stroke="#000" stroke-width="1" />
<text x="221.6" y="243.50000000000003" font-family='"Liberation Sans", sans-serif' font-size="9" font-weight="normal" text-anchor="end"  style="stroke-width:0.15px">20</text>
<line x1="224.4" y1="227.55" x2="228.0" y2="227.55" stroke="#000" stroke-width="1" />
<text x="221.6" y="231.15" font-family='"Liberation Sans", sans-serif' font-size="9" font-weight="normal" text-anchor="end"  style="stroke-width:0.15px">30</text>
<line x1="224.4" y1="215.20000000000002" x2="228.0" y2="215.20000000000002" stroke="#000" stroke-width="1" />
<text x="221.6" y="218.8" font-family='"Liberation Sans", sans-serif' font-size="9" font-weight="normal" text-anchor="end"  style="stroke-width:0.15px">40</text>
<text x="0" y="0" font-family='"Liberation Serif", serif' font-size="10" font-weight="bold" text-anchor="start"  transform="translate(191.2,256.8) rotate(-90)">Cloning</text>
<text x="0" y="0" font-family='"Liberation Serif", serif' font-size="10" font-weight="bold" text-anchor="start"  transform="translate(203.4,256.8) rotate(-90)">efficiency (%)</text>
<rect x="241" y="223.84500000000003" width="18.600000000000023" height="40.754999999999995" fill="#000" />
<line x1="250.3" y1="223.84500000000003" x2="250.3" y2="219.399" stroke="#333" stroke-width="1.1" />
<line x1="247.3" y1="219.399" x2="253.3" y2="219.399" stroke="#333" stroke-width="1.1" />
<rect x="299.4" y="226.80900000000003" width="19.400000000000034" height="37.791" fill="#000" />
<line x1="309.1" y1="226.80900000000003" x2="309.1" y2="221.9925" stroke="#333" stroke-width="1.1" />
<line x1="306.1" y1="221.9925" x2="312.1" y2="221.9925" stroke="#333" stroke-width="1.1" />
<rect x="356.3" y="253.85550000000003" width="17.5" height="10.744499999999988" fill="#000" />
<line x1="365.05" y1="253.85550000000003" x2="365.05" y2="246.32200000000003" stroke="#333" stroke-width="1.1" />
<line x1="362.05" y1="246.32200000000003" x2="368.05" y2="246.32200000000003" stroke="#333" stroke-width="1.1" />
<rect x="409.8" y="250.64450000000002" width="17.399999999999977" height="13.9555" fill="#000" />
<line x1="418.5" y1="250.64450000000002" x2="418.5" y2="246.56900000000002" stroke="#333" stroke-width="1.1" />
<line x1="415.5" y1="246.56900000000002" x2="421.5" y2="246.56900000000002" stroke="#333" stroke-width="1.1" />
<circle cx="364.9" cy="241.1" r="1.35"/>
<circle cx="416.0" cy="243.9" r="1.45"/>
<circle cx="420.3" cy="243.9" r="1.45"/>
<line x1="46.6" y1="391.4" x2="46.6" y2="471.0" stroke="#000" stroke-width="1.2" />
<line x1="46.0" y1="470.5" x2="159.0" y2="470.5" stroke="#000" stroke-width="1.2" />
<line x1="42.6" y1="460.29999999999995" x2="46.6" y2="460.29999999999995" stroke="#000" stroke-width="1" />
<line x1="42.6" y1="449.7" x2="46.6" y2="449.7" stroke="#000" stroke-width="1" />
<line x1="42.6" y1="439.09999999999997" x2="46.6" y2="439.09999999999997" stroke="#000" stroke-width="1" />
<line x1="42.6" y1="428.5" x2="46.6" y2="428.5" stroke="#000" stroke-width="1" />
<line x1="42.6" y1="417.9" x2="46.6" y2="417.9" stroke="#000" stroke-width="1" />
<line x1="42.6" y1="407.29999999999995" x2="46.6" y2="407.29999999999995" stroke="#000" stroke-width="1" />
<text x="39.0" y="453.09999999999997" font-family='"Liberation Serif", serif' font-size="10" font-weight="bold" text-anchor="end"  >1</text>
<text x="39.0" y="431.9" font-family='"Liberation Serif", serif' font-size="10" font-weight="bold" text-anchor="end"  >2</text>
<text x="39.0" y="410.69999999999993" font-family='"Liberation Serif", serif' font-size="10" font-weight="bold" text-anchor="end"  >3</text>
<text x="0" y="0" font-family='"Liberation Serif", serif' font-size="10.4" font-weight="bold" text-anchor="start"  transform="translate(23.5,462.3) rotate(-90)">Tumor weight (g)</text>
<rect x="65.1" y="423.412" width="10.200000000000003" height="47.488" fill="#000" />
<line x1="70.19999999999999" y1="423.412" x2="70.19999999999999" y2="406.452" stroke="#000" stroke-width="1.1" />
<line x1="67.19999999999999" y1="406.452" x2="73.19999999999999" y2="406.452" stroke="#000" stroke-width="1.1" />
<rect x="101" y="406.02799999999996" width="9.799999999999997" height="64.87200000000001" fill="#000" />
<line x1="105.9" y1="406.02799999999996" x2="105.9" y2="385.676" stroke="#000" stroke-width="1.1" />
<line x1="102.9" y1="385.676" x2="108.9" y2="385.676" stroke="#000" stroke-width="1.1" />
<rect x="135.9" y="456.272" width="9.5" height="14.627999999999986" fill="#6e6e6e" />
<line x1="140.65" y1="456.272" x2="140.65" y2="451.60799999999995" stroke="#000" stroke-width="1.1" />
<line x1="137.65" y1="451.60799999999995" x2="143.65" y2="451.60799999999995" stroke="#000" stroke-width="1.1" />
<polygon points="139.10,444.50 139.83,446.29 141.76,446.43 140.29,447.69 140.75,449.57 139.10,448.55 137.45,449.57 137.91,447.69 136.44,446.43 138.37,446.29" fill="#111"/><polygon points="144.80,444.50 145.53,446.29 147.46,446.43 145.99,447.69 146.45,449.57 144.80,448.55 143.15,449.57 143.61,447.69 142.14,446.43 144.07,446.29" fill="#111"/>
<text x="61.8" y="482.6" font-family='"Liberation Serif", serif' font-size="10" font-weight="bold" text-anchor="start"  >neo</text>
<text x="97.0" y="482.3" font-family='"Liberation Serif", serif' font-size="10" font-weight="bold">Ez<tspan font-size="6.9" dx="0.5" dy="-3.9">Wt</tspan></text>
<text x="129.2" y="482.3" font-family='"Liberation Serif", serif' font-size="10" font-weight="bold">Ez<tspan font-size="6.9" dx="0.5" dy="-3.9">Y145F</tspan></text>
<line x1="63.0" y1="486.2" x2="157.0" y2="486.2" stroke="#555" stroke-width="1.1" />
<text x="89.1" y="497.6" font-family='"Liberation Serif", serif' font-size="10" font-weight="bold" text-anchor="start"  >606HS2-</text>
<g id="micro">
<rect x="228" y="277" width="48.8" height="42.5" fill="#0b0b0b"/>
<g filter="url(#rough)"><ellipse cx="253" cy="297" rx="17.5" ry="16" fill="url(#col1)"/><ellipse cx="238" cy="291" rx="5" ry="6" fill="#777" opacity="0.7"/><ellipse cx="262" cy="309" rx="6" ry="4" fill="#666" opacity="0.6"/></g>
<g opacity="0.42"><ellipse cx="252" cy="297" rx="21" ry="18" fill="url(#colmask)" filter="url(#speck)"/></g>
<g opacity="0.35"><ellipse cx="253" cy="297" rx="16" ry="14" fill="#000" filter="url(#speckd)"/></g>
<rect x="265.2" y="314.2" width="7.4" height="1.2" fill="#ddd"/>
<rect x="285.1" y="276.6" width="47.4" height="43" fill="#0b0b0b"/>
<g filter="url(#rough2)"><ellipse cx="305.8" cy="296.4" rx="14.5" ry="13.2" fill="url(#col2)"/></g>
<g opacity="0.5"><ellipse cx="305.8" cy="296.4" rx="15" ry="13.8" fill="url(#colmask)" filter="url(#speck2)"/></g>
<g filter="url(#rough2)"><ellipse cx="322.8" cy="288.3" rx="2.8" ry="3" fill="#999"/></g>
<rect x="320.4" y="312.6" width="7.4" height="1.2" fill="#999"/>
<rect x="340.1" y="276.6" width="47.4" height="43" fill="url(#g3)"/>
<ellipse cx="363.9" cy="297.6" rx="6.5" ry="7.5" fill="url(#glow3)"/>
<ellipse cx="363.9" cy="297.6" rx="3.5" ry="4.4" fill="url(#blob3)"/>
<circle cx="356.5" cy="305.3" r="1.2" fill="#888"/>
<rect x="379.4" y="313.8" width="7.4" height="1.3" fill="#ddd"/>
<rect x="394.2" y="276.4" width="47.6" height="43.2" fill="url(#g4)"/>
<g clip-path="url(#c4)"><g transform="rotate(-40 418 298)"><rect x="380" y="260" width="80" height="80" fill="#fff" filter="url(#streak)" opacity="0.16"/></g></g>
<g filter="url(#rough2)"><ellipse cx="415.4" cy="297.8" rx="7" ry="7.5" fill="url(#col4)"/></g>
<g opacity="0.5"><ellipse cx="415.4" cy="297.8" rx="8" ry="8" fill="url(#colmask)" filter="url(#speck2)"/></g>
<rect x="432.1" y="313.9" width="7.6" height="1.3" fill="#eee"/>
</g>
</g>
</svg>
</body></html>
